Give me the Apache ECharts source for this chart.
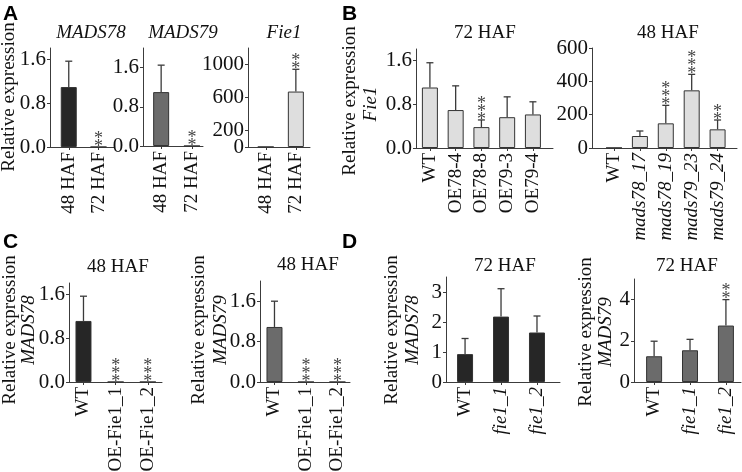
<!DOCTYPE html>
<html><head><meta charset="utf-8">
<script src="https://cdn.jsdelivr.net/npm/echarts@6/dist/echarts.min.js"></script>
<style>html,body{margin:0;padding:0;background:#fff}#c{width:742px;height:472px}</style>
</head><body><div id="c"></div>
<script>
// ---------- data ----------
const aCats = ['48 HAF', '72 HAF'];
const a78Vals = [1.09, 0];
const a78Errs = [0.47, 0];
const a78Stars = ['', '**'];
const a79Vals = [1.10, 0];
const a79Errs = [0.55, 0];
const a79Stars = ['', '**'];
const aFieVals = [1, 672];
const aFieErrs = [0, 270];
const aFieStars = ['', '**'];

const b72Cats = ['WT', 'OE78-4', 'OE78-8', 'OE79-3', 'OE79-4'];
const b72Vals = [1.10, 0.69, 0.38, 0.56, 0.61];
const b72Errs = [0.45, 0.44, 0.13, 0.37, 0.23];
const b72Stars = ['', '', '***', '', ''];
const b48Cats = ['WT', 'mads78_17', 'mads78_19', 'mads79_23', 'mads79_24'];
const b48Vals = [1, 72, 148, 346, 112];
const b48Errs = [0, 30, 108, 96, 56];
const b48Stars = ['', '', '***', '***', '**'];

const cCats = ['WT', 'OE-Fie1_1', 'OE-Fie1_2'];
const c78Vals = [1.11, 0, 0];
const c78Errs = [0.45, 0, 0];
const c78Stars = ['', '***', '***'];
const c79Vals = [1.09, 0, 0];
const c79Errs = [0.51, 0, 0];
const c79Stars = ['', '***', '***'];

const dCats = ['WT', 'fie1_1', 'fie1_2'];
const d78Vals = [0.93, 2.18, 1.65];
const d78Errs = [0.52, 0.93, 0.55];
const d78Stars = ['', '', ''];
const d79Vals = [1.25, 1.54, 2.74];
const d79Errs = [0.73, 0.53, 1.26];
const d79Stars = ['', '', '**'];

// tick labels
const ticksDec = [0, 0.8, 1.6];
const ticksFie = [200, 600, 1000];
const ticksFieZero = [0];
const ticks600 = [0, 200, 400, 600];
const ticksD78 = [0, 1, 2, 3];
const ticksD79 = [0, 2, 4];

// ---------- layout ----------
const SERIF = 'Liberation Serif';
const TXT = '#111';
const DARK = '#262626', MID = '#6b6b6b', LIGHT = '#dedede';
const panels = [
  {cats: aCats, vals: a78Vals, errs: a78Errs, stars: a78Stars, yt: ticksDec, dec: 1, ymax: 1.8, L: 50, T: 48, B: 147, R: 114, xmin: -0.63, xmax: 1.52, color: DARK, it: false},
  {cats: aCats, vals: a79Vals, errs: a79Errs, stars: a79Stars, yt: ticksDec, dec: 1, ymax: 2.0, L: 143, T: 48, B: 146, R: 203, xmin: -0.59, xmax: 1.36, color: MID, it: false},
  {cats: aCats, vals: aFieVals, errs: aFieErrs, stars: aFieStars, yt: ticksFie, yt2: ticksFieZero, dec: 0, ymax: 1200, L: 248, T: 48, B: 147, R: 310, xmin: -0.59, xmax: 1.47, color: LIGHT, it: false},
  {cats: b72Cats, vals: b72Vals, errs: b72Errs, stars: b72Stars, yt: ticksDec, dec: 1, ymax: 1.8, L: 416, T: 49, B: 148, R: 553, xmin: -0.54, xmax: 4.78, color: LIGHT, it: false},
  {cats: b48Cats, vals: b48Vals, errs: b48Errs, stars: b48Stars, yt: ticks600, dec: 0, ymax: 600, L: 592, T: 48, B: 148, R: 737, xmin: -0.85, xmax: 4.75, color: LIGHT, it: true},
  {cats: cCats, vals: c78Vals, errs: c78Errs, stars: c78Stars, yt: ticksDec, dec: 1, ymax: 1.8, L: 69, T: 283, B: 382, R: 162, xmin: -0.45, xmax: 2.44, color: DARK, it: false},
  {cats: cCats, vals: c79Vals, errs: c79Errs, stars: c79Stars, yt: ticksDec, dec: 1, ymax: 2.0, L: 260, T: 281, B: 382, R: 350, xmin: -0.46, xmax: 2.4, color: MID, it: false},
  {cats: dCats, vals: d78Vals, errs: d78Errs, stars: d78Stars, yt: ticksD78, dec: 0, ymax: 3.5, L: 446, T: 277, B: 382, R: 560, xmin: -0.53, xmax: 2.64, color: DARK, it: true},
  {cats: dCats, vals: d79Vals, errs: d79Errs, stars: d79Stars, yt: ticksD79, dec: 0, ymax: 5, L: 634, T: 279, B: 382, R: 741, xmin: -0.56, xmax: 2.42, color: MID, it: true}
];

const AXC = '#3c3c3c';
const grids = [], xAxes = [], yAxes = [], series = [], extraY = [];
function makeY(p, i, ticks, lineShow) {
  return {
    type: 'value', gridIndex: i, position: 'left', offset: 0, min: 0, max: p.ymax,
    axisLine: {show: lineShow, onZero: false, lineStyle: {color: AXC, width: 1}},
    axisTick: {show: true, length: 3, customValues: ticks, lineStyle: {color: AXC}},
    splitLine: {show: false},
    axisLabel: {
      customValues: ticks, margin: 4, color: TXT, fontFamily: SERIF, fontSize: 21,
      hideOverlap: false, showMinLabel: true, showMaxLabel: true,
      formatter: (v) => p.dec ? Number(v).toFixed(p.dec) : String(v)
    }
  };
}
panels.forEach((p, i) => {
  grids.push({left: p.L, top: p.T, width: p.R - p.L, height: p.B - p.T, containLabel: false, outerBoundsMode: 'none'});
  const idx = p.cats.map((c, k) => k);
  xAxes.push({
    type: 'value', gridIndex: i, min: p.xmin, max: p.xmax,
    axisLine: {show: true, onZero: false, lineStyle: {color: AXC, width: 1}},
    axisTick: {show: true, length: 3, customValues: idx, lineStyle: {color: AXC}},
    splitLine: {show: false},
    axisLabel: {
      customValues: idx, rotate: 90, margin: 5, color: TXT, hideOverlap: false,
      fontFamily: SERIF, fontSize: 19,
      formatter: (v) => {
        const name = p.cats[Math.round(v)];
        if (p.it && name !== 'WT') return '{i|' + name + '}';
        return name;
      },
      rich: {i: {fontStyle: 'italic', fontFamily: SERIF, fontSize: 19, color: TXT}}
    }
  });
  yAxes.push(makeY(p, i, p.yt, true));
  if (p.yt2) extraY.push(makeY(p, i, p.yt2, false));
  series.push({
    type: 'bar', xAxisIndex: i, yAxisIndex: i, barWidth: 16,
    data: p.vals.map((v, k) => [k, v]),
    itemStyle: {color: p.color, borderColor: '#333', borderWidth: 1},
    silent: true, animation: false
  });
  const stars = p.stars;
  series.push({
    type: 'custom', xAxisIndex: i, yAxisIndex: i, z: 5, clip: false, silent: true, animation: false,
    data: p.vals.map((v, k) => [k, v, p.errs[k]]),
    renderItem: function (params, api) {
      const x = api.value(0), v = api.value(1), e = api.value(2);
      const s = stars[params.dataIndex];
      const p0 = api.coord([x, v]);
      const p1 = api.coord([x, v + e]);
      const ch = [];
      if (e > 0) {
        ch.push({type: 'line', shape: {x1: p0[0], y1: p0[1], x2: p1[0], y2: p1[1]}, style: {stroke: '#3a3a3a', lineWidth: 1.3}});
        ch.push({type: 'line', shape: {x1: p1[0] - 3.5, y1: p1[1], x2: p1[0] + 3.5, y2: p1[1]}, style: {stroke: '#3a3a3a', lineWidth: 1.3}});
      }
      if (s) {
        ch.push({type: 'text', x: p1[0], y: p1[1] + 4,
          style: {text: s.split('').join('\n'), fontFamily: SERIF, fontSize: 18, lineHeight: 8,
            align: 'center', verticalAlign: 'bottom', fill: '#444'}});
      }
      return {type: 'group', children: ch};
    }
  });
});
extraY.forEach(a => yAxes.push(a));

// ---------- texts ----------
const yNames = [
  {t: 'Relative expression', x: 9, y: 97, it: false},
  {t: 'Relative expression', x: 350, y: 101, it: false},
  {t: 'Fie1', x: 371, y: 104, it: true},
  {t: 'Relative expression', x: 10, y: 330, it: false},
  {t: 'MADS78', x: 29, y: 330, it: true},
  {t: 'Relative expression', x: 199, y: 330, it: false},
  {t: 'MADS79', x: 221, y: 330, it: true},
  {t: 'Relative expression', x: 392, y: 330, it: false},
  {t: 'MADS78', x: 413, y: 330, it: true},
  {t: 'Relative expression', x: 586, y: 332, it: false},
  {t: 'MADS79', x: 606, y: 332, it: true}
];
const titles = [
  {t: 'MADS78', x: 91, y: 33, it: true},
  {t: 'MADS79', x: 183, y: 33, it: true},
  {t: 'Fie1', x: 284, y: 33, it: true},
  {t: '72 HAF', x: 485, y: 33, it: false},
  {t: '48 HAF', x: 668, y: 33, it: false},
  {t: '48 HAF', x: 118, y: 267, it: false},
  {t: '48 HAF', x: 308, y: 265, it: false},
  {t: '72 HAF', x: 505, y: 266, it: false},
  {t: '72 HAF', x: 687, y: 266, it: false}
];
const letters = [
  {t: 'A', x: 3, y: 4}, {t: 'B', x: 342, y: 4}, {t: 'C', x: 3, y: 232}, {t: 'D', x: 342, y: 232}
];
const graphic = [];
yNames.forEach(n => graphic.push({type: 'text', x: n.x, y: n.y, rotation: Math.PI / 2,
  style: {text: n.t, fontFamily: SERIF, fontSize: 19, fontStyle: n.it ? 'italic' : 'normal', fill: TXT, align: 'center', verticalAlign: 'middle'}}));
titles.forEach(n => graphic.push({type: 'text', x: n.x, y: n.y,
  style: {text: n.t, fontFamily: SERIF, fontSize: 19, fontStyle: n.it ? 'italic' : 'normal', fill: TXT, align: 'center', verticalAlign: 'middle'}}));
letters.forEach(n => graphic.push({type: 'text', x: n.x, y: n.y,
  style: {text: n.t, fontFamily: 'Liberation Sans', fontSize: 21, fontWeight: 'bold', fill: '#000', align: 'left', verticalAlign: 'top'}}));

const chart = echarts.init(document.getElementById('c'));
chart.setOption({
  animation: false,
  backgroundColor: '#fff',
  grid: grids, xAxis: xAxes, yAxis: yAxes, series: series, graphic: graphic
});
</script></body></html>
